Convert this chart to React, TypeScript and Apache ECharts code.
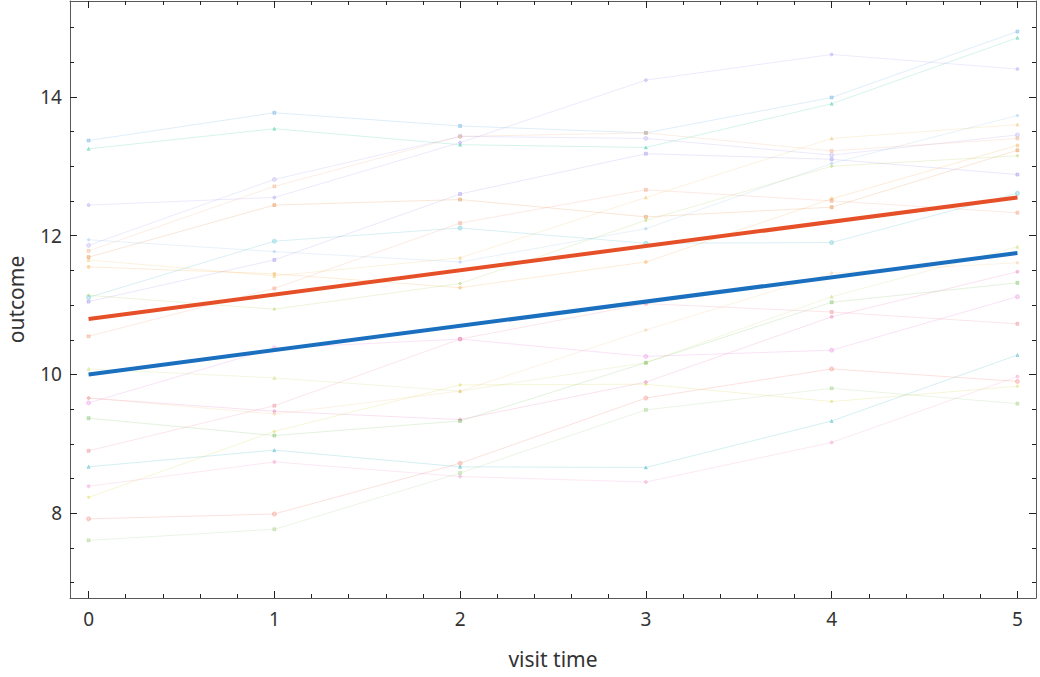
import { useEffect, useRef } from "react";
import * as echarts from "echarts";

// visit times (x) shared by every subject
const visitTimes = [0, 1, 2, 3, 4, 5];

// per-subject outcomes, one value per visit time
const subject01 = [13.37, 13.77, 13.58, 13.48, 13.99, 14.94];
const subject02 = [13.25, 13.54, 13.31, 13.27, 13.9, 14.85];
const subject03 = [12.44, 12.55, 13.34, 14.24, 14.61, 14.4];
const subject04 = [11.94, 11.77, 11.62, 12.1, 13.04, 13.73];
const subject05 = [11.86, 12.81, 13.43, 13.4, 13.16, 13.45];
const subject06 = [11.78, 12.71, 13.43, 13.48, 13.22, 13.4];
const subject07 = [11.69, 12.44, 12.52, 12.27, 12.41, 13.23];
const subject08 = [11.65, 11.42, 11.68, 12.55, 13.4, 13.6];
const subject09 = [11.55, 11.45, 11.25, 11.62, 12.53, 13.3];
const subject10 = [11.14, 10.94, 11.31, 12.22, 13.0, 13.15];
const subject11 = [11.11, 11.92, 12.11, 11.89, 11.9, 12.61];
const subject12 = [11.05, 11.65, 12.6, 13.18, 13.1, 12.88];
const subject13 = [10.55, 11.24, 12.18, 12.66, 12.5, 12.33];
const subject14 = [10.08, 9.95, 9.76, 10.17, 11.12, 11.84];
const subject15 = [9.66, 9.47, 9.35, 9.89, 10.83, 11.48];
const subject16 = [9.66, 9.43, 9.76, 10.64, 11.46, 11.61];
const subject17 = [9.59, 10.38, 10.51, 10.26, 10.35, 11.12];
const subject18 = [9.37, 9.12, 9.33, 10.17, 11.04, 11.32];
const subject19 = [8.9, 9.55, 10.51, 11.02, 10.9, 10.73];
const subject20 = [8.67, 8.91, 8.67, 8.66, 9.33, 10.28];
const subject21 = [8.39, 8.74, 8.53, 8.45, 9.02, 9.97];
const subject22 = [8.23, 9.18, 9.85, 9.86, 9.61, 9.83];
const subject23 = [7.92, 7.99, 8.72, 9.66, 10.08, 9.9];
const subject24 = [7.61, 7.77, 8.58, 9.49, 9.8, 9.58];

const subjects = [
    subject01, subject02, subject03, subject04, subject05, subject06,
    subject07, subject08, subject09, subject10, subject11, subject12,
    subject13, subject14, subject15, subject16, subject17, subject18,
    subject19, subject20, subject21, subject22, subject23, subject24,
];

// fitted mean trajectories (end points)
const fitTimes = [0, 5];
const fitLower = [10.0, 11.75];
const fitUpper = [10.8, 12.55];

// axis ticks
const xMajorTicks = [0, 1, 2, 3, 4, 5];
const xMinorTicks = [
    0.2, 0.4, 0.6, 0.8, 1.2, 1.4, 1.6, 1.8, 2.2, 2.4, 2.6, 2.8,
    3.2, 3.4, 3.6, 3.8, 4.2, 4.4, 4.6, 4.8,
];
const yMajorTicks = [8, 10, 12, 14];
const yMinorTicks = [7, 7.5, 8.5, 9, 9.5, 10.5, 11, 11.5, 12.5, 13, 13.5, 14.5, 15];

const subjectColors = [
    "#5fa8e0", "#2ec79c", "#a395ef", "#86c0e8", "#a597ef", "#f0ac7c",
    "#e0873c", "#f2bd5a", "#f5a53c", "#a6cc4c", "#3cb6c8", "#998ce8",
    "#f09474", "#c4d868", "#e86cb4", "#f5bd7c", "#e474dc", "#74bc5c",
    "#ec8490", "#2eb0c0", "#f08cc8", "#d4d43c", "#f06c5c", "#9ccc7c",
];
const subjectSymbols = ["rect", "triangle", "circle", "diamond", "emptyCircle", "rect"];

const FONT = "Noto Sans";
const AXIS = "#5a5a5a";
const TEXT = "#333333";
const X_MIN = -0.1;
const X_MAX = 5.1;
const Y_MIN = 6.78;
const Y_MAX = 15.38;

function App() {
    const ref = useRef<HTMLDivElement>(null);

    useEffect(() => {
        document.body.style.margin = "0";
        if (!ref.current) return;
        const chart = echarts.init(ref.current, undefined, { renderer: "svg" });

        const frameX = (position: "top" | "bottom", ticks: number[], len: number, main: boolean) => ({
            type: "value",
            position,
            min: X_MIN,
            max: X_MAX,
            axisLine: { show: main, onZero: false, lineStyle: { color: AXIS, width: 1 } },
            axisTick: { show: true, inside: true, length: len, customValues: ticks, lineStyle: { color: "#222", width: 1 } },
            axisLabel: { show: false },
            splitLine: { show: false },
        });
        const frameY = (position: "left" | "right", ticks: number[], len: number, main: boolean) => ({
            type: "value",
            position,
            min: Y_MIN,
            max: Y_MAX,
            axisLine: { show: main, onZero: false, lineStyle: { color: AXIS, width: 1 } },
            axisTick: { show: true, inside: true, length: len, customValues: ticks, lineStyle: { color: "#222", width: 1 } },
            axisLabel: { show: false },
            splitLine: { show: false },
        });

        const subjectSeries = subjects.map((values, i) => ({
            type: "line",
            xAxisIndex: 0,
            yAxisIndex: 0,
            data: visitTimes.map((t, j) => [t, values[j]]),
            symbol: subjectSymbols[i % subjectSymbols.length],
            symbolSize: 3,
            showSymbol: true,
            lineStyle: { color: subjectColors[i], width: 1, opacity: 0.2 },
            itemStyle: { color: subjectColors[i], borderColor: subjectColors[i], opacity: 0.35 },
            z: 2,
            silent: true,
        }));

        chart.setOption({
            animation: false,
            backgroundColor: "#ffffff",
            textStyle: { fontFamily: FONT },
            grid: { left: 70, right: 4, top: 1, bottom: 79, containLabel: false, outerBoundsMode: "none" },
            xAxis: [
                {
                    ...frameX("bottom", xMajorTicks, 7, true),
                    axisLabel: {
                        show: true,
                        customValues: xMajorTicks,
                        margin: 11,
                        color: TEXT,
                        fontSize: 19,
                        fontFamily: FONT,
                    },
                    name: "visit time",
                    nameLocation: "middle",
                    nameGap: 50,
                    nameTextStyle: { color: TEXT, fontSize: 21, fontFamily: FONT },
                },
                frameX("bottom", xMinorTicks, 4, false),
                frameX("top", xMajorTicks, 7, true),
                frameX("top", xMinorTicks, 4, false),
            ],
            yAxis: [
                {
                    ...frameY("left", yMajorTicks, 7, true),
                    axisLabel: {
                        show: true,
                        customValues: yMajorTicks,
                        margin: 8,
                        color: TEXT,
                        fontSize: 19,
                        fontFamily: FONT,
                    },
                    name: "outcome",
                    nameLocation: "middle",
                    nameRotate: 90,
                    nameGap: 44,
                    nameTextStyle: { color: TEXT, fontSize: 21, fontFamily: FONT },
                },
                frameY("left", yMinorTicks, 4, false),
                frameY("right", yMajorTicks, 7, true),
                frameY("right", yMinorTicks, 4, false),
            ],
            series: [
                ...subjectSeries,
                {
                    type: "line",
                    xAxisIndex: 0,
                    yAxisIndex: 0,
                    data: fitTimes.map((t, j) => [t, fitLower[j]]),
                    showSymbol: false,
                    symbol: "none",
                    lineStyle: { color: "#1a6fbf", width: 4 },
                    z: 5,
                    silent: true,
                },
                {
                    type: "line",
                    xAxisIndex: 0,
                    yAxisIndex: 0,
                    data: fitTimes.map((t, j) => [t, fitUpper[j]]),
                    showSymbol: false,
                    symbol: "none",
                    lineStyle: { color: "#e65028", width: 4 },
                    z: 5,
                    silent: true,
                },
            ],
        });

        return () => {
            chart.dispose();
        };
    }, []);

    return <div ref={ref} style={{ width: "1040px", height: "677px" }} />;
}

export default App;
